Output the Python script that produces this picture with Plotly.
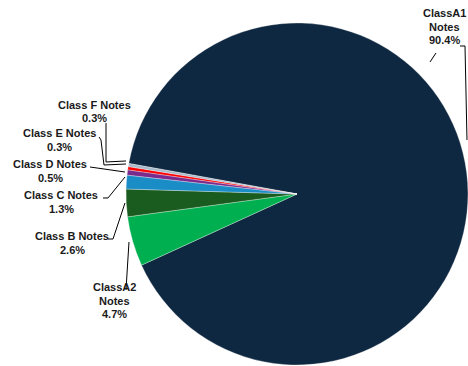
import plotly.graph_objects as go

W, H = 468, 366

labels = ["ClassA1 Notes", "ClassA2 Notes", "Class B Notes", "Class C Notes",
          "Class D Notes", "Class E Notes", "Class F Notes"]
values = [90.4, 4.7, 2.6, 1.3, 0.5, 0.3, 0.3]
label_lines = [["ClassA1", "Notes", "90.4%"], ["ClassA2", "Notes", "4.7%"],
               ["Class B Notes", "2.6%"], ["Class C Notes", "1.3%"],
               ["Class D Notes", "0.5%"], ["Class E Notes", "0.3%"],
               ["Class F Notes", "0.3%"]]
colors = ["#0F2841", "#00B050", "#1A5C1F", "#1A8CC6", "#7A2A8C", "#FF0000", "#A9BBCB"]

# label first-line centres and leader paths (window pixels)
label_pos = [(444, 13), (114, 287), (72, 236), (61, 195),
             (50, 164), (60, 133), (94, 105)]
LINE_GAP = 13.5
leaders = [
    [(460, 46), (465, 46), (467, 140)],
    [(126, 290), (129, 242)],
    [(108, 239), (113, 239), (125, 203)],
    [(103, 198), (108, 198), (125, 177)],
    [(90, 167), (125, 172)],
    [(99, 137), (101, 140), (104, 165), (126, 164)],
    [(106, 123), (106, 162), (126, 161)],
]
extra_seg = [(430, 62), (436, 53)]


def px(x):
    return x / W


def py(y):
    return 1 - y / H


fig = go.Figure(go.Pie(
    labels=labels, values=values, sort=False, direction="clockwise",
    rotation=280.3, textinfo="none", hoverinfo="label+percent",
    marker=dict(colors=colors, line=dict(color="rgba(255,255,255,0.5)", width=0.6)),
    domain=dict(x=[px(126), 1], y=[py(365), py(23)]),
    showlegend=False,
))

shapes = []
for pts in leaders + [extra_seg]:
    path = "M " + " L ".join(f"{px(x):.5f},{py(y):.5f}" for x, y in pts)
    shapes.append(dict(type="path", path=path, xref="paper", yref="paper",
                       line=dict(color="black", width=1)))

annotations = []
for lines, (x, y) in zip(label_lines, label_pos):
    for i, t in enumerate(lines):
        annotations.append(dict(text=f"<b>{t}</b>", x=px(x), y=py(y + i * LINE_GAP),
                                xref="paper", yref="paper",
                                xanchor="center", yanchor="middle", showarrow=False,
                                font=dict(family="Arial, Liberation Sans, sans-serif",
                                          size=11, color="#1a1a1a")))

fig.update_layout(width=W, height=H, margin=dict(l=0, r=0, t=0, b=0),
                  paper_bgcolor="white", plot_bgcolor="white",
                  shapes=shapes, annotations=annotations)

fig.write_html("out.html", config={"displayModeBar": False},
               post_script="document.body.style.margin='0';document.body.style.overflow='hidden';")
